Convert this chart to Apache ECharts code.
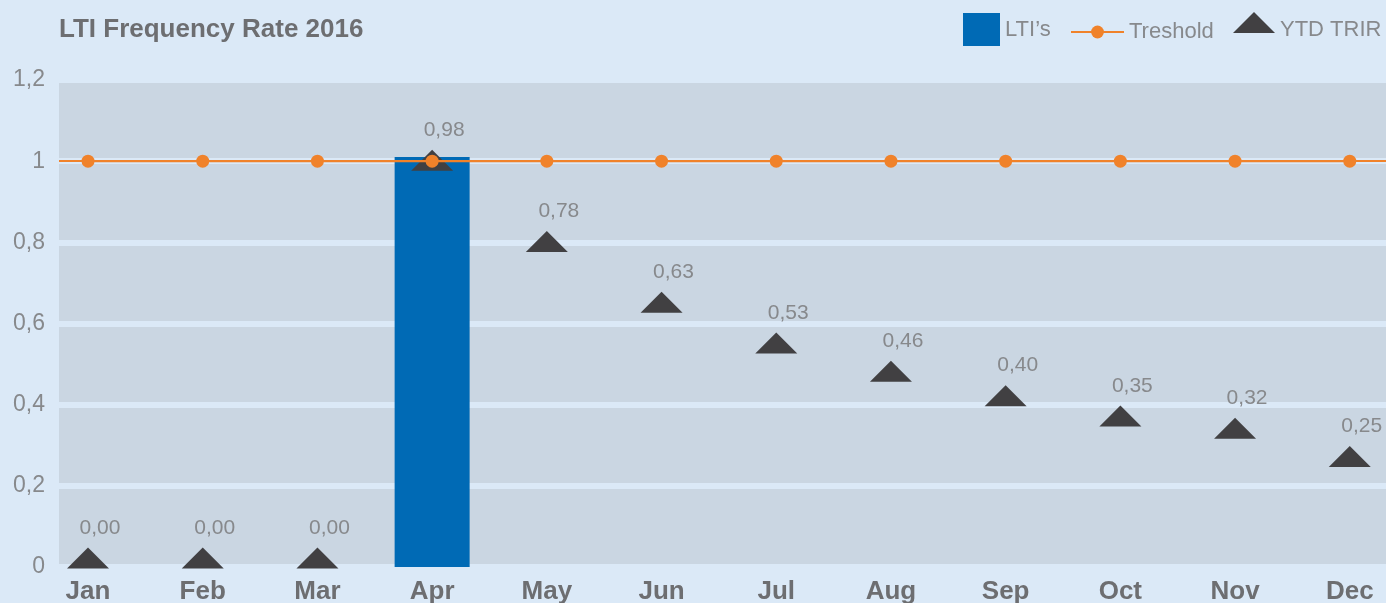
<!DOCTYPE html>
<html>
<head>
<meta charset="utf-8">
<script src="https://cdn.jsdelivr.net/npm/echarts@6/dist/echarts.min.js"></script>
<style>
  html, body { margin: 0; padding: 0; background: #dbe9f7; }
  #main { width: 1386px; height: 603px; }
</style>
</head>
<body>
<div id="main"></div>
<script>
// data
var months = ['Jan', 'Feb', 'Mar', 'Apr', 'May', 'Jun', 'Jul', 'Aug', 'Sep', 'Oct', 'Nov', 'Dec'];
var ltis = [0, 0, 0, 1.01, 0, 0, 0, 0, 0, 0, 0, 0];
var treshold = [1, 1, 1, 1, 1, 1, 1, 1, 1, 1, 1, 1];
var ytdTrir = [0, 0, 0, 0.98, 0.78, 0.63, 0.53, 0.46, 0.40, 0.35, 0.32, 0.25];
var yTicks = [0, 0.2, 0.4, 0.6, 0.8, 1, 1.2];

function pairs(arr) {
    return arr.map(function (v, i) { return [i, v]; });
}
function comma(v, d) {
    return (d == null ? String(Number(v.toFixed(1))) : v.toFixed(d)).replace('.', ',');
}

var grey = '#6d6e71';
var light = '#87898c';

var myChart = echarts.init(document.getElementById('main'));

var option = {
    backgroundColor: '#dbe9f7',
    textStyle: { fontFamily: 'Liberation Sans, Arial, sans-serif' },
    title: {
        text: 'LTI Frequency Rate 2016',
        left: 59,
        top: 17,
        padding: 0,
        textStyle: { fontSize: 26, fontWeight: 'bold', color: grey }
    },
    legend: [{
        data: [{ name: "LTI’s", icon: 'rect' }],
        left: 963, top: 13, padding: 0,
        itemWidth: 37, itemHeight: 33, itemGap: 0,
        textStyle: { fontSize: 22, color: light }
    }, {
        data: ['Treshold'],
        left: 1070, top: 21, padding: 0,
        itemWidth: 53, itemHeight: 16, itemGap: 0,
        textStyle: { fontSize: 22, color: light }
    }, {
        // triangle sits in the upper part of the item box, text is centred lower
        data: [{ name: 'YTD TRIR', icon: 'path://M21,0L42,21L0,21ZM21,36L21.01,36Z' }],
        left: 1233, top: 12, padding: 0,
        itemWidth: 42, itemHeight: 36, itemGap: 0,
        textStyle: { fontSize: 22, color: light }
    }],
    grid: {
        left: 59, right: 0, top: 80, bottom: 36,
        show: true, borderWidth: 0,
        backgroundColor: '#cad6e2',
        outerBoundsMode: 'none'
    },
    xAxis: {
        type: 'value',
        min: -0.253,
        max: 11.316,
        axisLine: { show: false },
        axisTick: { show: false },
        splitLine: { show: false },
        axisLabel: {
            customValues: months.map(function (m, i) { return i; }),
            formatter: function (v) { return months[v]; },
            fontSize: 26, fontWeight: 'bold', color: grey, margin: 12
        }
    },
    yAxis: {
        type: 'value',
        min: 0, max: 1.2, interval: 0.2,
        axisLine: { show: false },
        axisTick: { show: false },
        splitLine: { lineStyle: { color: '#dbe9f7', width: 6 } },
        axisLabel: {
            customValues: yTicks,
            formatter: function (v) { return comma(v); },
            fontSize: 23, color: light, margin: 14
        }
    },
    series: [{
        name: "LTI’s",
        type: 'bar',
        data: pairs(ltis),
        barWidth: 75,
        itemStyle: { color: '#006ab5' },
        z: 2
    }, {
        name: 'Treshold',
        type: 'line',
        data: pairs(treshold),
        symbol: 'circle',
        symbolSize: 13,
        itemStyle: { color: '#f0822a' },
        lineStyle: { color: '#f0822a', width: 2 },
        markLine: {
            silent: true,
            symbol: 'none',
            label: { show: false },
            lineStyle: { color: '#f0822a', width: 2, type: 'solid' },
            data: [{ yAxis: 1 }]
        },
        z: 4
    }, {
        name: 'YTD TRIR',
        type: 'scatter',
        data: pairs(ytdTrir),
        symbol: 'triangle',
        symbolSize: [42, 21],
        symbolOffset: [0, -9],
        itemStyle: { color: '#414042', opacity: 1 },
        label: {
            show: true,
            position: 'top',
            offset: [12, -4],
            formatter: function (p) { return comma(p.value[1], 2); },
            fontSize: 21,
            color: light
        },
        z: 3
    }]
};

myChart.setOption(option);
</script>
</body>
</html>
